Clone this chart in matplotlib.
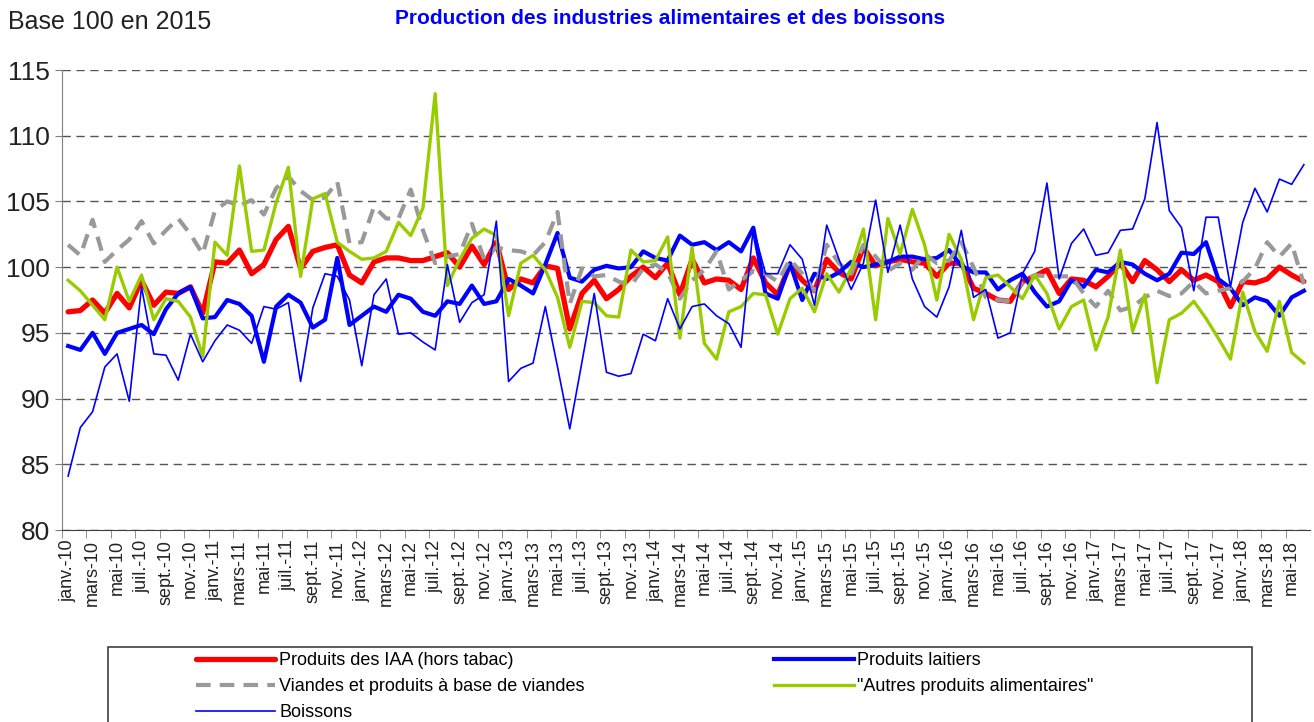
import matplotlib
matplotlib.use("Agg")
import matplotlib.pyplot as plt
from matplotlib.patches import Rectangle

plt.rcParams['font.family'] = ['Liberation Sans', 'DejaVu Sans']

# month labels janv.-10 ... juin-18
mois = ["janv.", "févr.", "mars", "avr.", "mai", "juin",
        "juil.", "août", "sept.", "oct.", "nov.", "déc."]
annees = range(10, 19)
labels = [f"{m}-{a}" for a in annees for m in mois][:102]

iaa = [96.6, 96.7, 97.5, 96.5, 98.0, 96.9, 99.0, 97.1, 98.1, 98.0, 98.5, 96.5,
       100.4, 100.3, 101.3, 99.5, 100.2, 102.1, 103.1, 99.9, 101.2, 101.5, 101.7, 99.4,
       98.8, 100.4, 100.7, 100.7, 100.5, 100.5, 100.8, 101.1, 100.0, 101.6, 100.2, 101.9,
       98.3, 99.1, 98.8, 100.1, 99.9, 95.3, 98.0, 99.0, 97.6, 98.3, 99.3, 100.0,
       99.2, 100.3, 97.9, 100.6, 98.8, 99.1, 99.0, 98.3, 100.7, 98.8, 97.9, 100.2,
       99.0, 98.2, 100.6, 99.6, 99.1, 101.5, 100.1, 100.4, 100.6, 100.4, 100.3, 99.3,
       100.3, 100.3, 98.4, 98.0, 97.5, 97.4, 98.9, 99.3, 99.8, 98.0, 99.1, 99.0,
       98.5, 99.3, 100.3, 98.9, 100.5, 99.8, 98.9, 99.8, 99.0, 99.4, 98.9, 97.0,
       98.9, 98.8, 99.1, 100.0, 99.4, 98.9]

laitiers = [94.0, 93.7, 95.0, 93.4, 95.0, 95.3, 95.6, 94.9, 96.8, 98.0, 98.5, 96.1,
            96.2, 97.5, 97.2, 96.3, 92.8, 97.0, 97.9, 97.3, 95.4, 96.0, 100.7, 95.6,
            96.3, 97.0, 96.6, 97.9, 97.6, 96.6, 96.3, 97.4, 97.2, 98.6, 97.2, 97.4,
            99.1, 98.6, 98.0, 100.2, 102.6, 99.2, 98.9, 99.8, 100.1, 99.9, 100.0, 101.2,
            100.7, 100.5, 102.4, 101.7, 101.9, 101.3, 101.9, 101.2, 103.0, 98.0, 97.6, 100.3,
            97.5, 99.5, 99.1, 99.6, 100.4, 100.0, 100.2, 100.4, 100.8, 100.8, 100.6, 100.7,
            101.3, 100.1, 99.6, 99.6, 98.3, 99.0, 99.5, 98.1, 97.0, 97.4, 99.0, 98.5,
            99.8, 99.6, 100.4, 100.2, 99.5, 99.0, 99.5, 101.1, 101.0, 101.9, 99.1, 98.4,
            97.1, 97.7, 97.4, 96.3, 97.7, 98.2]

viandes = [101.7, 100.9, 103.6, 100.4, 101.3, 102.1, 103.5, 101.8, 102.8, 103.7, 102.5, 101.0,
           104.3, 105.0, 104.7, 105.1, 104.0, 106.0, 106.9, 105.8, 105.1, 105.3, 106.5, 101.8,
           101.9, 104.6, 103.7, 103.7, 105.9, 102.8, 100.3, 100.8, 101.0, 103.3, 100.6, 101.5,
           101.3, 101.2, 100.9, 101.9, 104.2, 97.2, 99.9, 99.3, 99.4, 98.9, 98.6, 99.9,
           100.2, 99.6, 97.6, 99.0, 99.8, 101.2, 98.3, 99.0, 99.7, 99.5, 98.9, 100.6,
           99.5, 98.2, 101.7, 100.3, 99.5, 101.7, 100.8, 99.7, 100.3, 99.8, 101.0, 100.3,
           100.5, 101.9, 100.0, 97.7, 97.5, 97.4, 98.9, 99.4, 99.3, 99.3, 99.3, 98.0,
           97.0, 98.2, 96.7, 97.0, 97.7, 98.2, 97.8, 98.0, 98.9, 98.0, 98.2, 98.4,
           98.9, 99.9, 101.9, 100.8, 101.8, 98.7]

autres = [99.0, 98.2, 97.1, 96.0, 100.0, 97.4, 99.4, 96.0, 97.6, 97.4, 96.2, 93.2,
          101.9, 100.9, 107.7, 101.2, 101.3, 104.9, 107.6, 99.3, 105.2, 105.6, 101.9, 101.2,
          100.6, 100.7, 101.2, 103.4, 102.4, 104.5, 113.2, 98.6, 100.6, 102.2, 102.9, 102.4,
          96.3, 100.3, 100.9, 99.8, 97.7, 93.9, 97.4, 97.3, 96.3, 96.2, 101.3, 100.4,
          100.5, 102.3, 94.6, 101.5, 94.2, 93.0, 96.6, 97.0, 98.0, 97.9, 94.9, 97.6,
          98.4, 96.6, 99.5, 98.1, 99.9, 102.9, 96.0, 103.7, 101.0, 104.4, 101.7, 97.5,
          102.5, 100.6, 96.0, 99.2, 99.4, 98.5, 97.6, 99.4, 98.0, 95.3, 97.0, 97.5,
          93.7, 96.2, 101.3, 95.1, 97.9, 91.2, 96.0, 96.5, 97.4, 96.1, 94.6, 93.0,
          98.1, 95.1, 93.6, 97.4, 93.5, 92.7]

boissons = [84.1, 87.8, 89.0, 92.4, 93.4, 89.8, 98.5, 93.4, 93.3, 91.4, 94.9, 92.8,
            94.4, 95.6, 95.2, 94.2, 97.0, 96.8, 97.3, 91.3, 96.9, 99.5, 99.3, 97.5,
            92.5, 97.9, 99.1, 94.9, 95.0, 94.3, 93.7, 100.2, 95.8, 97.3, 97.9, 103.5,
            91.3, 92.3, 92.7, 97.0, 92.4, 87.7, 92.8, 98.0, 92.0, 91.7, 91.9, 94.9,
            94.4, 97.6, 95.3, 97.0, 97.2, 96.3, 95.7, 93.9, 103.0, 99.5, 99.5, 101.7,
            100.6, 97.1, 103.2, 100.6, 98.3, 100.3, 105.1, 99.6, 103.2, 99.1, 97.0, 96.2,
            98.5, 102.8, 97.7, 98.3, 94.6, 95.0, 99.5, 101.2, 106.4, 99.1, 101.8, 102.9,
            100.9, 101.1, 102.8, 102.9, 105.2, 111.0, 104.3, 103.0, 98.2, 103.8, 103.8, 98.5,
            103.4, 106.0, 104.2, 106.7, 106.3, 107.8]

W, H = 1314, 722
fig = plt.figure(figsize=(W / 100, H / 100), dpi=100)
ax = fig.add_axes([62 / W, 1 - 530 / H, 1248 / W, 460 / H])

x = list(range(len(labels)))
l_iaa, = ax.plot(x, iaa, color="#ff0000", lw=3.8, solid_joinstyle="round",
                 solid_capstyle="round", label="Produits des IAA (hors tabac)", zorder=3)
l_lait, = ax.plot(x, laitiers, color="#0000ff", lw=3.0, solid_joinstyle="round",
                  label="Produits laitiers", zorder=4)
l_via, = ax.plot(x, viandes, color="#999999", lw=3.0, dashes=(3.5, 2.2),
                 label="Viandes et produits à base de viandes", zorder=5)
l_aut, = ax.plot(x, autres, color="#99cc00", lw=2.4, solid_joinstyle="round",
                 label='"Autres produits alimentaires"', zorder=6)
l_boi, = ax.plot(x, boissons, color="#0000ff", lw=1.2, label="Boissons", zorder=7)

ax.set_xlim(-0.5, len(labels) - 0.5)
ax.set_ylim(80, 115)
ax.set_yticks(range(80, 116, 5))
ax.tick_params(axis="y", labelsize=19, length=5, color="#808080", labelcolor="#222222")
ax.yaxis.grid(True, linestyle=(0, (6, 4)), color="#555555", lw=1)
ax.set_axisbelow(True)

ax.set_xticks(x[::2])
ax.set_xticklabels(labels[::2], rotation=90, fontsize=13, color="#222222")
ax.set_xticks([i - 0.5 for i in x[::2]], minor=True)
ax.tick_params(axis="x", which="major", length=0, pad=7)
ax.tick_params(axis="x", which="minor", length=6, color="#808080")

for s in ["top", "right"]:
    ax.spines[s].set_visible(False)
ax.spines["left"].set_color("#808080")
ax.spines["bottom"].set_color("#404040")

fig.text(8 / W, 1 - 22 / H, "Base 100 en 2015", fontsize=18, va="center", color="#222222")
fig.text(670 / W, 1 - 19 / H, "Production des industries alimentaires et des boissons",
         fontsize=15, fontweight="bold", color="#0000ff", ha="center", va="center")

# legend box runs off the bottom of the figure
fig.add_artist(Rectangle((108 / W, -0.05), (1252 - 108) / W, 0.05 + 1 - 647 / H,
                         transform=fig.transFigure, fill=False, edgecolor="#404040", lw=1.2))
fig.legend(handles=[l_iaa, l_via, l_boi, l_lait, l_aut], ncol=2, frameon=False,
           loc="upper left", bbox_to_anchor=(196 / W, 1 - 652 / H), borderaxespad=0,
           borderpad=0, handlelength=4.4, handletextpad=0.2, columnspacing=10.5,
           labelspacing=0.5, fontsize=13)

fig.savefig("out.png", dpi=100)
